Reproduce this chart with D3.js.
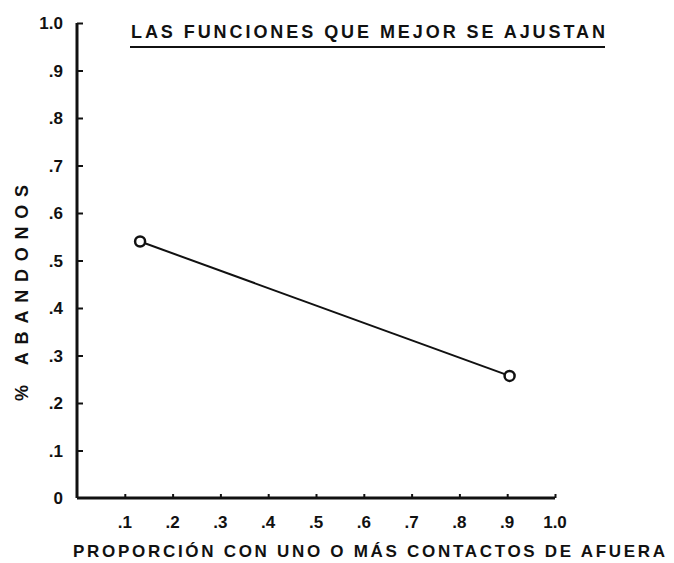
<!DOCTYPE html>
<html>
<head>
<meta charset="utf-8">
<script src="https://cdn.jsdelivr.net/npm/d3@7"></script>
<style>
  html, body { margin: 0; padding: 0; background: #fff; }
  svg { display: block; }
  text { font-family: "Liberation Sans", "DejaVu Sans", sans-serif; font-weight: bold; fill: #111; }
</style>
</head>
<body>
<svg id="chart" width="674" height="563"></svg>
<script>
// ---- data ----
const xValues = [0.132, 0.905];
const yValues = [0.54, 0.257];
const xTickValues = [0.1, 0.2, 0.3, 0.4, 0.5, 0.6, 0.7, 0.8, 0.9, 1.0];
const xTickLabels = [".1", ".2", ".3", ".4", ".5", ".6", ".7", ".8", ".9", "1.0"];
const yTickValues = [0, 0.1, 0.2, 0.3, 0.4, 0.5, 0.6, 0.7, 0.8, 0.9, 1.0];
const yTickLabels = ["0", ".1", ".2", ".3", ".4", ".5", ".6", ".7", ".8", ".9", "1.0"];
const titleText = "LAS FUNCIONES QUE MEJOR SE AJUSTAN";
const xLabelText = "PROPORCIÓN CON UNO O MÁS CONTACTOS DE AFUERA";
const yLabelText = "% ABANDONOS";

const svg = d3.select("#chart");
const x = d3.scaleLinear().domain([0, 1]).range([77, 555]);
const y = d3.scaleLinear().domain([0, 1]).range([498, 23]);

// axes
const xAxis = d3.axisBottom(x).tickValues(xTickValues).tickSize(-4).tickFormat("");
const gx = svg.append("g").attr("transform", `translate(0,${y(0)})`).call(xAxis);
gx.select(".domain").attr("d", `M${x(0)},0H${x(1)}`).attr("stroke", "#111").attr("stroke-width", 3);
gx.selectAll(".tick line").attr("stroke", "#111").attr("stroke-width", 2);

const yAxis = d3.axisLeft(y).tickValues(yTickValues.filter(v => v > 0)).tickSize(-6).tickFormat("");
const gy = svg.append("g").attr("transform", `translate(${x(0)},0)`).call(yAxis);
gy.select(".domain").attr("d", `M0,${y(0)}V${y(1)}`).attr("stroke", "#111").attr("stroke-width", 3);
gy.selectAll(".tick line").attr("stroke", "#111").attr("stroke-width", 2);

// tick labels
svg.append("g").selectAll("text").data(xTickValues).join("text")
  .attr("x", d => x(d)).attr("y", 528)
  .attr("text-anchor", "middle").attr("font-size", 17)
  .text((d, i) => xTickLabels[i]);

svg.append("g").selectAll("text").data(yTickValues).join("text")
  .attr("x", 63).attr("y", d => y(d) + 6)
  .attr("text-anchor", "end").attr("font-size", 17)
  .text((d, i) => yTickLabels[i]);

// title
svg.append("text").attr("x", 131).attr("y", 38).attr("font-size", 18)
  .attr("textLength", 474).attr("lengthAdjust", "spacing").text(titleText);
svg.append("line").attr("x1", 130).attr("x2", 605).attr("y1", 47).attr("y2", 47)
  .attr("stroke", "#111").attr("stroke-width", 2);

// axis labels
svg.append("text").attr("x", 73).attr("y", 557).attr("font-size", 17)
  .attr("textLength", 592).attr("lengthAdjust", "spacing").text(xLabelText);

svg.append("text").attr("transform", "translate(28,401) rotate(-90)").attr("font-size", 18)
  .attr("textLength", 216).attr("lengthAdjust", "spacing").text(yLabelText);

// line + points
const pts = xValues.map((v, i) => [v, yValues[i]]);
svg.append("path").datum(pts)
  .attr("d", d3.line().x(d => x(d[0])).y(d => y(d[1])))
  .attr("fill", "none").attr("stroke", "#111").attr("stroke-width", 2);
svg.append("g").selectAll("circle").data(pts).join("circle")
  .attr("cx", d => x(d[0])).attr("cy", d => y(d[1])).attr("r", 5)
  .attr("fill", "#fff").attr("stroke", "#111").attr("stroke-width", 2.5);
</script>
</body>
</html>
